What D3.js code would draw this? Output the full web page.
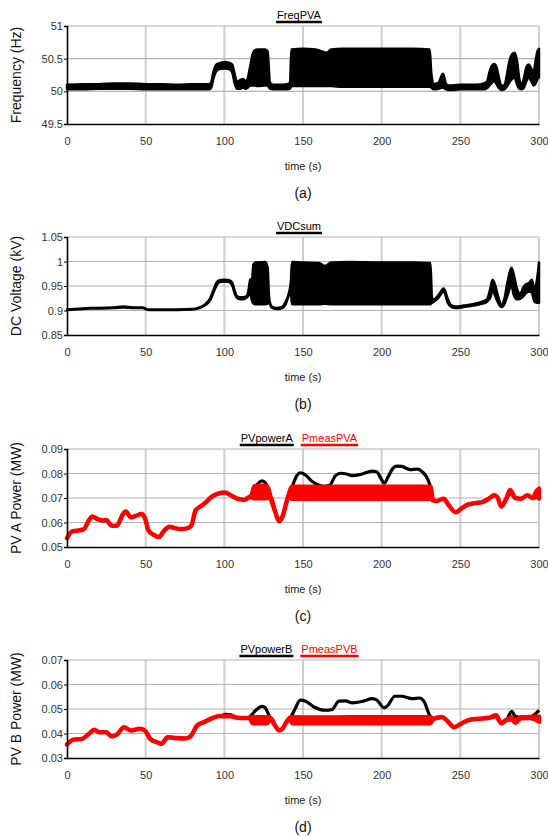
<!DOCTYPE html>
<html>
<head>
<meta charset="utf-8">
<script src="https://cdn.jsdelivr.net/npm/d3@7"></script>
<style>
  body { margin: 0; background: #fff; }
  text { font-family: "Liberation Sans", Arial, sans-serif; }
</style>
</head>
<body>
<svg id="chart" width="548" height="836"></svg>
<script>
// ---------- shared axis values ----------
const timeTicks = [0, 50, 100, 150, 200, 250, 300];
const timeTickLabels = ["0", "50", "100", "150", "200", "250", "300"];

// ---------- (a) FreqPVA : envelope (min / max) of the frequency trace ----------
const freqTicks = [49.5, 50, 50.5, 51];
const freqTickLabels = ["49.5", "50", "50.5", "51"];
const freqT  = [0, 10, 20, 30, 40, 50, 60, 70, 80, 90, 91.5, 93, 95, 97, 100, 103, 105, 106.5, 108, 110, 112, 113.5, 115, 116.5, 118, 119.5, 121, 126, 127.5, 129, 131, 135, 140, 141.8, 142.6, 150, 158, 162, 165, 168, 175, 190, 205, 220, 230.5, 231.5, 233, 236, 239, 241, 243, 250, 260, 265, 267, 268.5, 270, 271.5, 273, 274.5, 276, 278, 279.5, 281, 283, 284.5, 286, 287.5, 289, 290.5, 292, 293.5, 295, 296.5, 298, 299, 300];
const freqLo = [50.03, 50.03, 50.04, 50.04, 50.04, 50.03, 50.03, 50.03, 50.03, 50.03, 50.05, 50.19, 50.31, 50.34, 50.35, 50.34, 50.29, 50.13, 50.04, 50.04, 50.06, 50.04, 50.06, 50.09, 50.09, 50.09, 50.08, 50.09, 50.09, 50.04, 50.03, 50.03, 50.03, 50.04, 50.08, 50.08, 50.08, 50.08, 50.08, 50.08, 50.07, 50.07, 50.07, 50.07, 50.07, 50.06, 50.03, 50.04, 50.06, 50.03, 50.02, 50.03, 50.03, 50.03, 50.05, 50.09, 50.13, 50.16, 50.11, 50.05, 50.02, 50.03, 50.07, 50.13, 50.19, 50.21, 50.11, 50.04, 50.03, 50.06, 50.16, 50.21, 50.16, 50.09, 50.13, 50.19, 50.21];
const freqHi = [50.10, 50.11, 50.11, 50.12, 50.12, 50.11, 50.11, 50.10, 50.11, 50.11, 50.13, 50.29, 50.41, 50.43, 50.45, 50.44, 50.41, 50.27, 50.15, 50.17, 50.19, 50.15, 50.21, 50.39, 50.57, 50.63, 50.64, 50.64, 50.61, 50.13, 50.10, 50.10, 50.11, 50.14, 50.64, 50.65, 50.64, 50.61, 50.59, 50.64, 50.65, 50.65, 50.65, 50.65, 50.64, 50.29, 50.11, 50.13, 50.27, 50.11, 50.09, 50.10, 50.10, 50.12, 50.15, 50.29, 50.39, 50.42, 50.37, 50.21, 50.09, 50.09, 50.24, 50.44, 50.57, 50.59, 50.47, 50.19, 50.09, 50.21, 50.37, 50.41, 50.35, 50.29, 50.49, 50.61, 50.65];

// ---------- (b) VDCsum : envelope of the DC voltage ----------
const vdcTicks = [0.85, 0.9, 0.95, 1, 1.05];
const vdcTickLabels = ["0.85", "0.9", "0.95", "1", "1.05"];
const vdcT  = [0, 5, 10, 15, 20, 30, 36, 42, 48, 52, 60, 70, 80, 84, 88, 91, 93, 95, 97, 100, 103, 105, 106.5, 108, 110, 112, 114, 115.5, 116.5, 117.5, 118.5, 120, 126, 127.5, 128.5, 130, 133, 136, 139, 141, 142.3, 143, 150, 160, 164, 168, 180, 200, 220, 231, 232, 233.5, 236, 239.5, 242, 244, 247, 252, 258, 264, 267, 269, 270.5, 272, 274, 276, 278, 280, 282.5, 284, 286, 288, 290, 292, 294, 295.5, 297, 298.5, 300];
const vdcLo = [0.901, 0.902, 0.903, 0.904, 0.904, 0.905, 0.906, 0.905, 0.905, 0.901, 0.901, 0.901, 0.902, 0.905, 0.911, 0.921, 0.936, 0.951, 0.958, 0.959, 0.958, 0.951, 0.936, 0.926, 0.923, 0.923, 0.926, 0.931, 0.936, 0.921, 0.914, 0.913, 0.913, 0.914, 0.916, 0.906, 0.903, 0.904, 0.913, 0.931, 0.936, 0.913, 0.913, 0.913, 0.914, 0.913, 0.913, 0.913, 0.913, 0.913, 0.916, 0.919, 0.926, 0.939, 0.916, 0.908, 0.905, 0.907, 0.910, 0.914, 0.918, 0.926, 0.941, 0.931, 0.916, 0.907, 0.913, 0.931, 0.951, 0.931, 0.923, 0.924, 0.929, 0.936, 0.939, 0.936, 0.919, 0.916, 0.916];
const vdcHi = [0.902, 0.903, 0.904, 0.905, 0.905, 0.906, 0.908, 0.906, 0.906, 0.902, 0.902, 0.902, 0.903, 0.906, 0.913, 0.925, 0.941, 0.957, 0.962, 0.963, 0.962, 0.957, 0.941, 0.929, 0.927, 0.927, 0.929, 0.944, 0.964, 0.959, 0.994, 0.998, 0.999, 0.988, 0.924, 0.909, 0.905, 0.906, 0.918, 0.935, 0.959, 0.999, 0.998, 0.997, 0.991, 0.998, 0.999, 0.998, 0.998, 0.997, 0.924, 0.923, 0.931, 0.945, 0.924, 0.911, 0.908, 0.910, 0.913, 0.918, 0.923, 0.944, 0.963, 0.953, 0.929, 0.911, 0.924, 0.958, 0.987, 0.973, 0.944, 0.934, 0.947, 0.954, 0.957, 0.963, 0.944, 0.958, 0.998];

// ---------- (c) PV A power ----------
const pvaTicks = [0.05, 0.06, 0.07, 0.08, 0.09];
const pvaTickLabels = ["0.05", "0.06", "0.07", "0.08", "0.09"];
const pvPowerAT = [0, 3, 6, 10.7, 14, 16, 19.5, 23, 25, 28.4, 31.8, 35, 37.3, 40.6, 44, 47.3, 49.5, 51.7, 55, 58.4, 61.7, 65, 68.4, 72.8, 76.2, 79, 81.7, 85, 88.4, 91.7, 96, 100.6, 104, 108.4, 112.8, 116, 119, 121, 124, 126, 128, 129.5, 132, 135, 137, 139.5, 142.8, 146, 148.3, 150, 152.8, 155, 158, 162.8, 167, 170.5, 174, 178.3, 181.6, 187, 194, 197, 199.5, 201.6, 204, 207, 209.4, 212.7, 218, 222.7, 226, 229.4, 231, 232.7, 235, 239.4, 242.7, 247, 250.5, 255, 259.4, 263.8, 268, 271.6, 273.8, 276, 279.4, 281.6, 285, 288.4, 292.7, 296, 298.4, 300];
const pvPowerA  = [0.0536, 0.0563, 0.0566, 0.0573, 0.0610, 0.0624, 0.0614, 0.0608, 0.0610, 0.0587, 0.0587, 0.0628, 0.0645, 0.0621, 0.0628, 0.0635, 0.0619, 0.0569, 0.0550, 0.0541, 0.0566, 0.0583, 0.0577, 0.0573, 0.0576, 0.0587, 0.0649, 0.0666, 0.0683, 0.0704, 0.0718, 0.0722, 0.0711, 0.0697, 0.0693, 0.0704, 0.0735, 0.0755, 0.0770, 0.0762, 0.0735, 0.0700, 0.0650, 0.0606, 0.0625, 0.0683, 0.0740, 0.0790, 0.0803, 0.0800, 0.0787, 0.0772, 0.0759, 0.0748, 0.0752, 0.0790, 0.0801, 0.0797, 0.0791, 0.0797, 0.0810, 0.0806, 0.0780, 0.0760, 0.0785, 0.0820, 0.0830, 0.0829, 0.0816, 0.0818, 0.0806, 0.0775, 0.0745, 0.0690, 0.0688, 0.0697, 0.0670, 0.0642, 0.0656, 0.0674, 0.0679, 0.0683, 0.0697, 0.0711, 0.0700, 0.0665, 0.0700, 0.0728, 0.0700, 0.0697, 0.0711, 0.0700, 0.0725, 0.0720];
const pmeasAT  = [0, 3, 6, 10.7, 14, 16, 19.5, 23, 25, 28.4, 31.8, 35, 37.3, 40.6, 44, 47.3, 49.5, 51.7, 55, 58.4, 61.7, 65, 68.4, 72.8, 76.2, 79, 81.7, 85, 88.4, 91.7, 96, 100.6, 104, 108.4, 112.8, 116, 117.5, 119, 126, 127.5, 129.5, 132, 135, 137, 139.5, 141.5, 142.8, 160, 180, 200, 220, 231, 232.7, 235, 239.4, 242.7, 247, 250.5, 255, 259.4, 263.8, 268, 271.6, 273.8, 276, 279.4, 281.6, 285, 288.4, 292.7, 296, 298.4, 300];
const pmeasALo = [0.0536, 0.0563, 0.0566, 0.0573, 0.0610, 0.0624, 0.0614, 0.0608, 0.0610, 0.0587, 0.0587, 0.0628, 0.0645, 0.0621, 0.0628, 0.0635, 0.0619, 0.0569, 0.0550, 0.0541, 0.0566, 0.0583, 0.0577, 0.0573, 0.0576, 0.0587, 0.0649, 0.0666, 0.0683, 0.0704, 0.0718, 0.0722, 0.0711, 0.0697, 0.0693, 0.0704, 0.0702, 0.0699, 0.0699, 0.0700, 0.0700, 0.0650, 0.0606, 0.0625, 0.0683, 0.0715, 0.0697, 0.0697, 0.0697, 0.0697, 0.0697, 0.0697, 0.0690, 0.0688, 0.0697, 0.0670, 0.0642, 0.0656, 0.0674, 0.0679, 0.0683, 0.0697, 0.0711, 0.0700, 0.0665, 0.0700, 0.0723, 0.0700, 0.0697, 0.0711, 0.0700, 0.0705, 0.0698];
const pmeasAHi = [0.0536, 0.0563, 0.0566, 0.0573, 0.0610, 0.0624, 0.0614, 0.0608, 0.0610, 0.0587, 0.0587, 0.0628, 0.0645, 0.0621, 0.0628, 0.0635, 0.0619, 0.0569, 0.0550, 0.0541, 0.0566, 0.0583, 0.0577, 0.0573, 0.0576, 0.0587, 0.0649, 0.0666, 0.0683, 0.0704, 0.0718, 0.0722, 0.0711, 0.0697, 0.0693, 0.0704, 0.0712, 0.0748, 0.0750, 0.0745, 0.0700, 0.0650, 0.0606, 0.0625, 0.0683, 0.0725, 0.0746, 0.0745, 0.0746, 0.0746, 0.0746, 0.0746, 0.0690, 0.0688, 0.0697, 0.0670, 0.0642, 0.0656, 0.0674, 0.0679, 0.0683, 0.0697, 0.0711, 0.0700, 0.0665, 0.0700, 0.0733, 0.0700, 0.0697, 0.0711, 0.0700, 0.0728, 0.0738];

// ---------- (d) PV B power ----------
const pvbTicks = [0.03, 0.04, 0.05, 0.06, 0.07];
const pvbTickLabels = ["0.03", "0.04", "0.05", "0.06", "0.07"];
const pvPowerBT = [0, 4, 9.5, 14, 17.3, 20.6, 25, 28.4, 31.8, 36.2, 40.6, 46.2, 49.5, 52.9, 57.3, 60, 64, 68.4, 75, 78.4, 82.8, 87.3, 92.8, 97.3, 101, 104, 108.4, 112, 115, 117, 120, 124, 126, 128, 129.5, 132, 135, 137, 139.5, 142.3, 145, 148.3, 151.7, 157, 164, 168.3, 172.8, 177, 181.6, 188.3, 194, 197, 201.6, 204, 208.3, 212.7, 219.4, 224, 227, 230.5, 232.7, 238.3, 241.6, 246, 250.5, 256, 261.6, 268.3, 272.7, 276, 279.4, 282.7, 285, 288.4, 294, 297.3, 300];
const pvPowerB  = [0.0355, 0.0375, 0.0378, 0.0399, 0.0415, 0.0405, 0.0405, 0.0388, 0.0396, 0.0426, 0.0412, 0.0419, 0.0412, 0.0378, 0.0364, 0.0358, 0.0385, 0.0382, 0.0380, 0.0388, 0.0433, 0.0447, 0.0464, 0.0471, 0.0478, 0.0476, 0.0464, 0.0463, 0.0463, 0.0474, 0.0495, 0.0511, 0.0505, 0.0480, 0.0462, 0.0435, 0.0412, 0.0420, 0.0447, 0.0468, 0.0501, 0.0536, 0.0532, 0.0508, 0.0495, 0.0497, 0.0532, 0.0533, 0.0525, 0.0532, 0.0542, 0.0536, 0.0505, 0.0515, 0.0552, 0.0552, 0.0542, 0.0545, 0.0530, 0.0474, 0.0460, 0.0467, 0.0452, 0.0426, 0.0440, 0.0456, 0.0460, 0.0464, 0.0474, 0.0442, 0.0456, 0.0490, 0.0470, 0.0466, 0.0466, 0.0478, 0.0495];
const pmeasBT  = [0, 4, 9.5, 14, 17.3, 20.6, 25, 28.4, 31.8, 36.2, 40.6, 46.2, 49.5, 52.9, 57.3, 60, 64, 68.4, 75, 78.4, 82.8, 87.3, 92.8, 97.3, 101, 104, 108.4, 112, 115, 116.5, 118, 127, 128.5, 129.5, 132, 135, 137, 139.5, 142.3, 143, 160, 180, 200, 220, 231, 232.7, 238.3, 241.6, 246, 250.5, 256, 261.6, 268.3, 272.7, 276, 279.4, 282.7, 285, 288.4, 294, 297.3, 300];
const pmeasBLo = [0.0355, 0.0375, 0.0378, 0.0399, 0.0415, 0.0405, 0.0405, 0.0388, 0.0396, 0.0426, 0.0412, 0.0419, 0.0412, 0.0378, 0.0364, 0.0358, 0.0385, 0.0382, 0.0380, 0.0388, 0.0433, 0.0447, 0.0464, 0.0471, 0.0470, 0.0470, 0.0464, 0.0463, 0.0463, 0.0460, 0.0442, 0.0442, 0.0452, 0.0462, 0.0435, 0.0412, 0.0420, 0.0447, 0.0460, 0.0442, 0.0442, 0.0442, 0.0442, 0.0442, 0.0442, 0.0460, 0.0467, 0.0452, 0.0426, 0.0440, 0.0456, 0.0460, 0.0464, 0.0470, 0.0442, 0.0456, 0.0458, 0.0444, 0.0462, 0.0463, 0.0458, 0.0448];
const pmeasBHi = [0.0355, 0.0375, 0.0378, 0.0399, 0.0415, 0.0405, 0.0405, 0.0388, 0.0396, 0.0426, 0.0412, 0.0419, 0.0412, 0.0378, 0.0364, 0.0358, 0.0385, 0.0382, 0.0380, 0.0388, 0.0433, 0.0447, 0.0464, 0.0471, 0.0471, 0.0471, 0.0464, 0.0463, 0.0463, 0.0466, 0.0466, 0.0466, 0.0466, 0.0462, 0.0435, 0.0412, 0.0420, 0.0447, 0.0466, 0.0466, 0.0465, 0.0466, 0.0466, 0.0466, 0.0466, 0.0460, 0.0467, 0.0452, 0.0426, 0.0440, 0.0456, 0.0460, 0.0464, 0.0474, 0.0442, 0.0456, 0.0466, 0.0450, 0.0466, 0.0467, 0.0468, 0.0468];

// ---------- layout ----------
const svg = d3.select("#chart");
const left = 67, right = 539, plotH = 98;
const x = d3.scaleLinear().domain([0, 300]).range([left, right]);

function zip(t, a, b) {
  return t.map((v, i) => ({ t: v, lo: a[i], hi: b ? b[i] : a[i] }));
}

const panels = [
  {
    top: 26, ylabel: "Frequency (Hz)", caption: "(a)",
    ticks: freqTicks, tickLabels: freqTickLabels,
    legend: [{ name: "FreqPVA", color: "#000" }],
    bands: [{ data: zip(freqT, freqLo, freqHi), color: "#000", width: 2.5 }],
    lines: []
  },
  {
    top: 237, ylabel: "DC Voltage (kV)", caption: "(b)",
    ticks: vdcTicks, tickLabels: vdcTickLabels,
    legend: [{ name: "VDCsum", color: "#000" }],
    bands: [{ data: zip(vdcT, vdcLo, vdcHi), color: "#000", width: 2.5 }],
    lines: []
  },
  {
    top: 449, ylabel: "PV A Power (MW)", caption: "(c)",
    ticks: pvaTicks, tickLabels: pvaTickLabels,
    legend: [{ name: "PVpowerA", color: "#000" }, { name: "PmeasPVA", color: "#ff0000" }],
    lines: [{ data: zip(pvPowerAT, pvPowerA), color: "#000", width: 3.2 }],
    bands: [{ data: zip(pmeasAT, pmeasALo, pmeasAHi), color: "#ff0000", width: 4.5 }]
  },
  {
    top: 660, ylabel: "PV B Power (MW)", caption: "(d)",
    ticks: pvbTicks, tickLabels: pvbTickLabels,
    legend: [{ name: "PVpowerB", color: "#000" }, { name: "PmeasPVB", color: "#ff0000" }],
    lines: [{ data: zip(pvPowerBT, pvPowerB), color: "#000", width: 3.2 }],
    bands: [{ data: zip(pmeasBT, pmeasBLo, pmeasBHi), color: "#ff0000", width: 4.5 }]
  }
];

panels.forEach(p => {
  const top = p.top, bottom = top + plotH;
  const y = d3.scaleLinear()
    .domain([p.ticks[0], p.ticks[p.ticks.length - 1]])
    .range([bottom, top]);
  const g = svg.append("g");

  // vertical grid
  g.append("g").selectAll("line").data(timeTicks.slice(1)).join("line")
    .attr("x1", d => x(d)).attr("x2", d => x(d))
    .attr("y1", top).attr("y2", bottom)
    .attr("stroke", "#cfcfcf").attr("stroke-width", 2);
  // horizontal grid
  g.append("g").selectAll("line").data(p.ticks.slice(1)).join("line")
    .attr("x1", left).attr("x2", right)
    .attr("y1", d => y(d)).attr("y2", d => y(d))
    .attr("stroke", "#b4b4b4").attr("stroke-width", 1.2);

  // traces
  const line = d3.line().curve(d3.curveMonotoneX).x(d => x(d.t)).y(d => y(d.lo));
  p.lines.forEach(l => {
    g.append("path").datum(l.data).attr("d", line)
      .attr("fill", "none").attr("stroke", l.color)
      .attr("stroke-width", l.width).attr("stroke-linejoin", "round");
  });
  const area = d3.area().curve(d3.curveMonotoneX)
    .x(d => x(d.t)).y0(d => y(d.lo)).y1(d => y(d.hi));
  p.bands.forEach(b => {
    g.append("path").datum(b.data).attr("d", area)
      .attr("fill", b.color).attr("stroke", b.color)
      .attr("stroke-width", b.width).attr("stroke-linejoin", "round");
  });

  // axes
  const yAxis = d3.axisLeft(y).tickValues(p.ticks).tickSize(3).tickPadding(1)
    .tickFormat((d, i) => p.tickLabels[i]);
  const ya = g.append("g").attr("transform", `translate(${left},0)`).call(yAxis);
  const xAxis = d3.axisBottom(x).tickValues(timeTicks).tickSize(0).tickPadding(13)
    .tickFormat((d, i) => timeTickLabels[i]);
  const xa = g.append("g").attr("transform", `translate(0,${bottom})`).call(xAxis);
  [ya, xa].forEach(a => {
    a.select(".domain").attr("stroke", "#000").attr("stroke-width", 1.6);
    a.selectAll(".tick line").attr("stroke", "#000");
    a.selectAll(".tick text").attr("fill", "#333").style("font-size", "11px")
      .style("font-family", "'Liberation Sans', Arial, sans-serif");
  });

  // y label
  g.append("text")
    .attr("transform", `translate(21,${(top + bottom) / 2}) rotate(-90)`)
    .attr("text-anchor", "middle").attr("fill", "#111")
    .style("font-size", "14px").text(p.ylabel);
  // x label
  g.append("text").attr("x", (left + right) / 2).attr("y", bottom + 46)
    .attr("text-anchor", "middle").attr("fill", "#222")
    .style("font-size", "11px").text("time (s)");
  // caption
  g.append("text").attr("x", (left + right) / 2).attr("y", bottom + 74)
    .attr("text-anchor", "middle").attr("fill", "#111")
    .style("font-size", "14px").text(p.caption);

  // legend (underlined series names)
  const lg = g.append("g");
  const items = p.legend.map(it => {
    const t = lg.append("text").attr("y", top - 7).attr("fill", it.color)
      .style("font-size", "11px").text(it.name);
    return { t, w: t.node().getComputedTextLength(), color: it.color };
  });
  const gap = 9;
  const total = d3.sum(items, d => d.w) + gap * (items.length - 1);
  let cx = 299 - total / 2;
  items.forEach(it => {
    it.t.attr("x", cx);
    lg.append("line").attr("x1", cx - 1).attr("x2", cx + it.w + 1)
      .attr("y1", top - 4).attr("y2", top - 4)
      .attr("stroke", it.color).attr("stroke-width", 2.5);
    cx += it.w + gap;
  });
});
</script>
</body>
</html>
